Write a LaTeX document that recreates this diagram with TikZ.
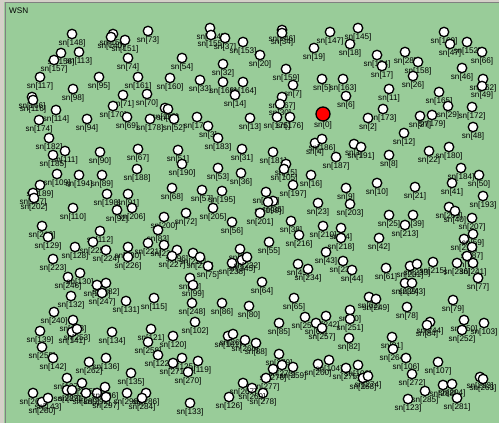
\documentclass[tikz,border=0pt]{standalone}
\usepackage{fontspec}
\setmainfont{Liberation Sans}
\definecolor{wsngreen}{RGB}{153,204,153}
\definecolor{edgegray}{RGB}{128,128,128}
\definecolor{panelgray}{RGB}{212,208,200}
\tikzset{
  sensor/.style={circle,draw=black,fill=white,line width=1.3bp,minimum size=9.5bp,inner sep=0pt,label distance=3.5bp},
  sink/.style={circle,draw=black,fill=red,line width=1.3bp,minimum size=14bp,inner sep=0pt,label distance=4bp},
  snlabel/.style={font=\fontsize{8.2}{9.5}\selectfont,inner sep=0pt,text=black},
}
% one sensor: x, y (pixels from top left), number
\newcommand{\snode}[3]{\node[sensor,label={[snlabel]below:{sn[#3]}}] (s#3) at (#1,#2) {};}
\begin{document}
\begin{tikzpicture}[x=1bp,y=-1bp]
  \useasboundingbox (0,0) rectangle (499,423);
  \fill[wsngreen] (0,0) rectangle (499,423);
  \fill[panelgray] (0,0) rectangle (499,2);
  \fill[panelgray] (0,0) rectangle (4,423);
  \draw[edgegray,line width=1bp] (5,423) -- (5,2.5) -- (499,2.5);
  \node[snlabel,anchor=west] (title) at (9,11) {WSN};
  % row 1
  \snode{72}{34}{148} \snode{113}{34}{150} \snode{111}{37}{140} \snode{125}{40}{151}
  \snode{148}{31}{73} \snode{210}{28}{144} \snode{211}{35}{155} \snode{225}{38}{37}
  \snode{243}{42}{153} \snode{282}{30}{146} \snode{282}{33}{34} \snode{330}{32}{147}
  \snode{358}{28}{145} \snode{314}{48}{19} \snode{350}{44}{18} \snode{260}{55}{20}
  \snode{79}{52}{113} \snode{61}{53}{156} \snode{54}{60}{157} \snode{128}{58}{74}
  \snode{182}{58}{54} \snode{377}{55}{154} \snode{405}{52}{28} \snode{444}{32}{169}
  \snode{450}{44}{47} \snode{467}{42}{152} \snode{482}{52}{66} \snode{418}{62}{158}
  % row 2
  \snode{40}{77}{117} \snode{99}{77}{95} \snode{73}{89}{98} \snode{138}{77}{161}
  \snode{170}{78}{160} \snode{200}{80}{33} \snode{223}{64}{32} \snode{223}{82}{168}
  \snode{243}{82}{164} \snode{286}{69}{159} \snode{293}{85}{7} \snode{322}{79}{5}
  \snode{343}{79}{163} \snode{382}{66}{17} \snode{413}{76}{26} \snode{462}{68}{46}
  \snode{483}{79}{162} \snode{482}{86}{49} \snode{389}{89}{11} \snode{439}{92}{165}
  \snode{147}{94}{70} \snode{123}{95}{71} \snode{32}{97}{166} \snode{33}{100}{116}
  \snode{282}{97}{167} \snode{346}{96}{6} \snode{235}{95}{14}
  % row 3
  \snode{113}{106}{170} \snode{56}{110}{114} \snode{165}{108}{118} \snode{168}{109}{58}
  \snode{448}{106}{29} \snode{472}{107}{172} \snode{383}{109}{173} \snode{280}{104}{30}
  \snode{39}{120}{174} \snode{87}{119}{94} \snode{127}{117}{69} \snode{150}{119}{178}
  \snode{174}{119}{52} \snode{197}{117}{177} \snode{208}{126}{3} \snode{218}{138}{183}
  \snode{250}{118}{13} \snode{277}{117}{175} \snode{290}{117}{176} \snode{368}{118}{2}
  \snode{420}{116}{27} \snode{432}{115}{179} \snode{473}{127}{48} \snode{404}{133}{12}
  \snode{49}{138}{182} \snode{315}{143}{4} \snode{322}{139}{186} \snode{354}{144}{1}
  \snode{361}{147}{191}
  \node[sink,label={[snlabel]below:{sn[0]}}] (s0) at (323,114) {};
  % row 4
  \snode{65}{151}{111} \snode{53}{155}{185} \snode{100}{152}{90} \snode{138}{149}{67}
  \snode{178}{150}{51} \snode{242}{149}{31} \snode{182}{164}{190} \snode{57}{174}{109}
  \snode{79}{175}{194} \snode{102}{175}{89} \snode{40}{185}{189} \snode{33}{193}{127}
  \snode{34}{198}{202} \snode{137}{169}{188} \snode{218}{168}{53} \snode{241}{173}{36}
  \snode{273}{152}{181} \snode{336}{157}{187} \snode{286}{164}{15} \snode{284}{169}{105}
  \snode{311}{175}{16} \snode{293}{185}{197} \snode{389}{155}{8} \snode{429}{151}{22}
  \snode{449}{147}{180} \snode{461}{168}{184} \snode{479}{175}{50} \snode{377}{183}{10}
  \snode{415}{187}{21} \snode{452}{183}{41} \snode{346}{188}{9} \snode{172}{188}{68}
  \snode{202}{190}{57} \snode{222}{191}{195} \snode{107}{194}{198} \snode{128}{194}{91}
  \snode{483}{196}{193} \snode{266}{192}{196}
  % row 5
  \snode{117}{210}{92} \snode{132}{208}{206} \snode{73}{208}{110} \snode{273}{201}{35}
  \snode{268}{202}{199} \snode{318}{203}{23} \snode{350}{204}{203} \snode{213}{208}{205}
  \snode{186}{213}{72} \snode{164}{217}{200} \snode{260}{213}{201} \snode{449}{207}{209}
  \snode{455}{211}{40} \snode{472}{218}{207} \snode{389}{215}{25} \snode{413}{215}{39}
  \snode{405}{225}{213} \snode{291}{221}{38} \snode{323}{226}{210} \snode{341}{228}{24}
  \snode{341}{238}{218} \snode{299}{235}{216} \snode{232}{222}{56} \snode{42}{226}{219}
  \snode{48}{237}{129} \snode{158}{230}{83} \snode{379}{238}{42} \snode{100}{231}{112}
  \snode{93}{242}{225} \snode{148}{243}{221} \snode{164}{245}{228} \snode{128}{247}{230}
  \snode{75}{247}{128} \snode{106}{250}{224} \snode{53}{259}{223} \snode{128}{257}{226}
  \snode{177}{250}{96} \snode{172}{256}{227} \snode{193}{253}{211} \snode{200}{257}{214}
  \snode{240}{249}{97} \snode{232}{263}{238} \snode{242}{260}{245} \snode{247}{257}{232}
  \snode{269}{242}{55} \snode{326}{252}{43} \snode{464}{239}{212} \snode{473}{234}{59}
  \snode{472}{247}{87} \snode{467}{256}{76}
  % row 6
  \snode{208}{266}{75} \snode{343}{261}{237} \snode{352}{270}{44} \snode{298}{264}{45}
  \snode{308}{269}{234} \snode{262}{282}{64} \snode{433}{262}{215} \snode{457}{263}{236}
  \snode{473}{263}{241} \snode{386}{268}{61} \snode{410}{266}{231} \snode{417}{264}{233}
  \snode{478}{278}{77} \snode{405}{283}{239} \snode{412}{283}{243} \snode{68}{277}{246}
  \snode{80}{273}{130} \snode{97}{285}{208} \snode{106}{283}{282} \snode{102}{293}{247}
  \snode{126}{301}{131} \snode{154}{298}{115} \snode{190}{278}{93} \snode{193}{285}{99}
  \snode{192}{303}{248} \snode{195}{322}{102} \snode{222}{303}{86} \snode{249}{306}{80}
  \snode{294}{298}{65} \snode{369}{297}{62} \snode{376}{299}{249} \snode{453}{300}{79}
  \snode{71}{296}{132}
  % row 7
  \snode{407}{307}{78} \snode{305}{317}{254} \snode{326}{316}{242} \snode{316}{323}{63}
  \snode{322}{328}{257} \snode{279}{323}{85} \snode{350}{310}{60} \snode{350}{319}{251}
  \snode{430}{322}{244} \snode{427}{325}{84} \snode{464}{320}{250} \snode{484}{323}{103}
  \snode{462}{330}{252} \snode{349}{338}{82} \snode{392}{337}{81} \snode{54}{312}{240}
  \snode{73}{320}{138} \snode{40}{331}{139} \snode{72}{332}{141} \snode{77}{329}{253}
  \snode{112}{332}{134} \snode{151}{329}{121} \snode{148}{342}{258} \snode{173}{336}{120}
  \snode{228}{336}{101} \snode{233}{334}{265} \snode{245}{340}{266} \snode{256}{343}{88}
  \snode{42}{347}{255}
  % row 8
  \snode{393}{349}{264} \snode{53}{358}{142} \snode{89}{362}{262} \snode{106}{358}{136}
  \snode{158}{355}{122} \snode{182}{358}{125} \snode{198}{361}{119} \snode{173}{363}{271}
  \snode{188}{372}{270} \snode{131}{373}{135} \snode{279}{354}{279} \snode{282}{365}{273}
  \snode{293}{367}{259} \snode{273}{369}{276} \snode{318}{364}{260} \snode{329}{360}{104}
  \snode{346}{368}{275} \snode{358}{365}{100} \snode{363}{378}{268} \snode{368}{376}{274}
  \snode{266}{378}{277} \snode{263}{393}{278} \snode{252}{388}{269} \snode{406}{358}{106}
  \snode{438}{362}{107} \snode{412}{374}{272} \snode{443}{385}{288} \snode{452}{384}{204}
  \snode{457}{398}{281} \snode{480}{377}{283} \snode{483}{379}{263} \snode{425}{391}{285}
  \snode{408}{399}{123} \snode{243}{383}{267} \snode{229}{397}{126} \snode{67}{378}{137}
  \snode{82}{383}{295} \snode{33}{393}{261} \snode{42}{402}{280} \snode{48}{398}{143}
  \snode{67}{390}{287} \snode{72}{390}{291} \snode{86}{393}{289} \snode{97}{393}{292}
  \snode{105}{387}{296} \snode{106}{397}{297} \snode{127}{393}{298} \snode{146}{393}{286}
  \snode{142}{398}{284} \snode{190}{403}{133}
\end{tikzpicture}
\end{document}
